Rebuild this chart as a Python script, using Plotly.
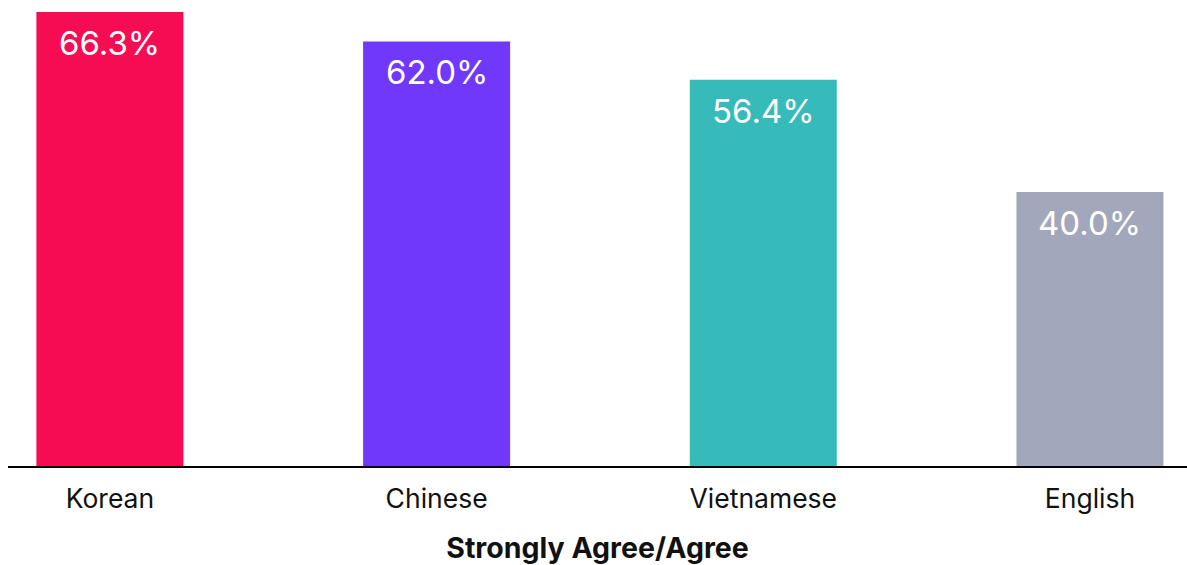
import plotly.graph_objects as go

categories = ["Korean", "Chinese", "Vietnamese", "English"]
values = [66.3, 62.0, 56.4, 40.0]
colors = ["#F50C52", "#7038FB", "#36BABA", "#A2A7BC"]
labels = [f"{v:.1f}%" for v in values]
axis_title = "Strongly Agree/Agree"

FONT = "Inter, Noto Sans, sans-serif"

fig = go.Figure()
fig.add_trace(go.Bar(
    x=categories,
    y=values,
    marker=dict(color=colors, line=dict(width=0)),
    width=0.45,
    hoverinfo="skip",
))

for c, v, t in zip(categories, values, labels):
    fig.add_annotation(
        x=c, y=v, text=t, showarrow=False,
        yanchor="top", yshift=-9,
        font=dict(family=FONT, size=33, color="white"),
    )

fig.update_layout(
    width=1187, height=565,
    margin=dict(l=8, r=0, t=0, b=99),
    paper_bgcolor="white", plot_bgcolor="white",
    showlegend=False,
    font=dict(family=FONT, color="#111111"),
    xaxis=dict(
        type="category",
        range=[-0.312, 3.297],
        showline=True, linecolor="black", linewidth=2,
        showgrid=False, zeroline=False,
        ticks="outside", ticklen=8, tickcolor="rgba(0,0,0,0)",
        tickfont=dict(family=FONT, size=26.5, color="#111111"),
        title=dict(text="<b>" + axis_title + "</b>", standoff=30,
                   font=dict(family=FONT, size=28.5, color="#111111")),
    ),
    yaxis=dict(
        range=[0, 68.05],
        visible=False,
        showgrid=False, zeroline=False,
    ),
)

fig.write_html("out.html")
